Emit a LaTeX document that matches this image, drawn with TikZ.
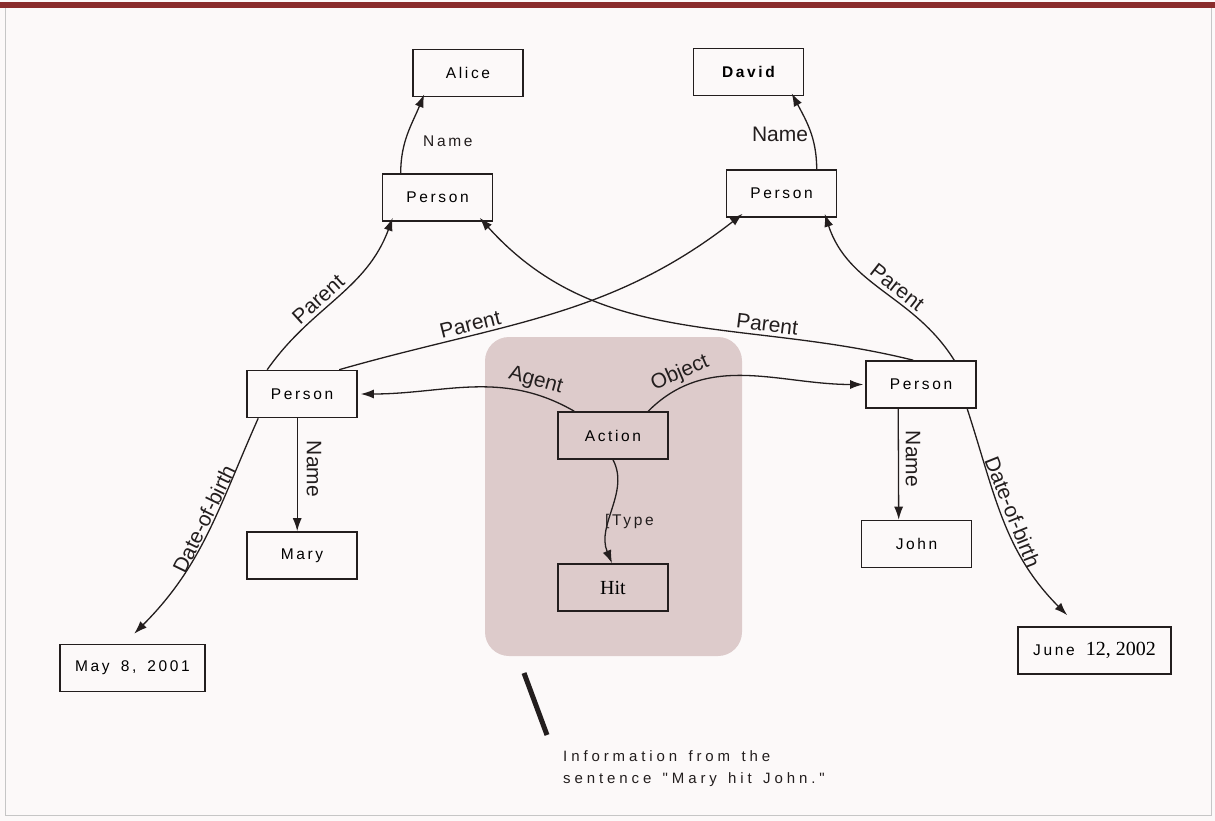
\documentclass[tikz,border=0pt]{standalone}
\usepackage{fontspec}
\setmainfont{Liberation Sans}
\newfontfamily\spc[LetterSpace=17,WordSpace=1.6]{Liberation Sans}
\newfontfamily\spcw[LetterSpace=26,WordSpace=1.4]{Liberation Sans}
\newfontfamily\serifx{Liberation Serif}
\usetikzlibrary{arrows.meta,calc}
\definecolor{bgcol}{RGB}{252,249,249}
\definecolor{shadecol}{RGB}{221,203,203}
\definecolor{barred}{RGB}{138,44,44}
\definecolor{ink}{RGB}{35,30,30}
\begin{document}
\begin{tikzpicture}[x=1pt,y=-1pt,
  box/.style={draw=ink,line width=1.6pt,minimum width=110pt,minimum height=47pt,inner sep=0pt,font=\spc\fontsize{15.5}{18}\selectfont},
  edge/.style={line width=1.3pt,draw=ink,-{Latex[length=13pt,width=9pt]}},
  lab/.style={font=\fontsize{21}{24}\selectfont,inner sep=3pt,text=ink},
  slab/.style={font=\spc\fontsize{15.5}{18}\selectfont,inner sep=2pt,text=ink}]
\useasboundingbox (0,0) rectangle (1215,821);
\fill[bgcol] (0,0) rectangle (1215,821);
% frame
\fill[barred] (0,2) rectangle (1215,8);
\draw[gray!45,line width=0.8pt] (5,8) -- (5,815) -- (1211,815) -- (1211,8);
% shaded region
\fill[shadecol,rounded corners=24pt] (485,337) rectangle (742,656);
% nodes
\node[box] (alice) at (468,73) {Alice};
\node[box,font=\spc\bfseries\fontsize{15.5}{18}\selectfont] (david) at (748.5,72) {David};
\node[box] (p1) at (437.5,197.5) {Person};
\node[box] (p2) at (781.5,193.5) {Person};
\node[box] (p3) at (302,394) {Person};
\node[box] (p4) at (921,384.5) {Person};
\node[box] (act) at (613,435.5) {Action};
\node[box,font=\serifx\fontsize{20}{22}\selectfont] (hit) at (613,587.5) {Hit};
\node[box] (mary) at (302,555.5) {Mary};
\node[box] (john) at (916.5,544) {John};
\node[box,minimum width=145pt] (may) at (132.5,668) {May 8, 2001};
\node[box,minimum width=153pt] (june) at (1094.5,650.5) {June {\serifx\fontsize{20}{22}\selectfont 12, 2002}};
% Name edges (top)
\draw[edge] ($(p1.north west)+(19,0)$) to[out=90,in=-112] ($(alice.south west)+(12,-3)$);
\node[slab,anchor=west] (n1) at (421,141) {Name};
\draw[edge] ($(p2.north west)+(91,0)$) to[out=90,in=-62] ($(david.south west)+(99,-3)$);
\node[lab] (n2) at (780,134) {Name};
% Parent edges
\draw[edge] ($(p3.north west)+(21,0)$) to[out=55,in=-110] node[lab,sloped,above,pos=0.42] {Parent} ($(p1.south west)+(11,-4)$);
\draw[edge] ($(p3.north west)+(93,0)$) to[out=16,in=-142] node[lab,sloped,above,pos=0.3] {Parent} ($(p2.south west)+(17,-4)$);
\draw[edge] ($(p4.north west)+(48,0)$) to[out=166,in=-48] node[lab,sloped,above,pos=0.3] {Parent} ($(p1.south west)+(98,-4)$);
\draw[edge] ($(p4.north west)+(89,0)$) to[out=122,in=-72] node[lab,sloped,above,pos=0.45] {Parent} ($(p2.south west)+(99,-4)$);
% Agent / Object
\draw[edge] ($(act.north west)+(17,0)$) to[out=150,in=0] node[lab,sloped,above,pos=0.2] {Agent} ($(p3.east)+(3,0)$);
\draw[edge] ($(act.north west)+(91,0)$) to[out=45,in=180] node[lab,sloped,above,pos=0.2] {Object} ($(p4.west)+(-2,0)$);
% Type
\draw[edge] (act.south) .. controls (630,492) and (596,525) .. ($(hit.north)+(-1,0)$);
\node[slab,anchor=west] (tl) at (603,521) {[Type};
% Name down
\draw[edge] ($(p3.south west)+(51,0)$) -- ($(mary.north west)+(51,0)$);
\node[lab,rotate=-90] (n3) at (314,469) {Name};
\draw[edge] ($(p4.south west)+(33,0)$) -- ($(john.north west)+(38,0)$);
\node[lab,rotate=-90] (n4) at (913,459) {Name};
% Date-of-birth
\draw[edge] ($(p3.south west)+(12,0)$) to[out=-114,in=45] node[lab,sloped,above,pos=0.45,inner sep=1pt] {Date-of-birth} ($(may.north west)+(75,-10)$);
\draw[edge] ($(p4.south west)+(102,0)$) to[out=-72,in=135] node[lab,sloped,above,pos=0.48] {Date-of-birth} ($(june.north west)+(50,-11)$);
% annotation
\coordinate (s1) at (524,673);
\coordinate (s2) at (547,735);
\draw[line width=5pt,ink] (s1) -- (s2);
\node[anchor=north west,align=left,inner sep=0pt,font=\spcw\fontsize{15}{22}\selectfont,text=ink] (info) at (563,750) {Information from the\\sentence "Mary hit John."};
\end{tikzpicture}
\end{document}
